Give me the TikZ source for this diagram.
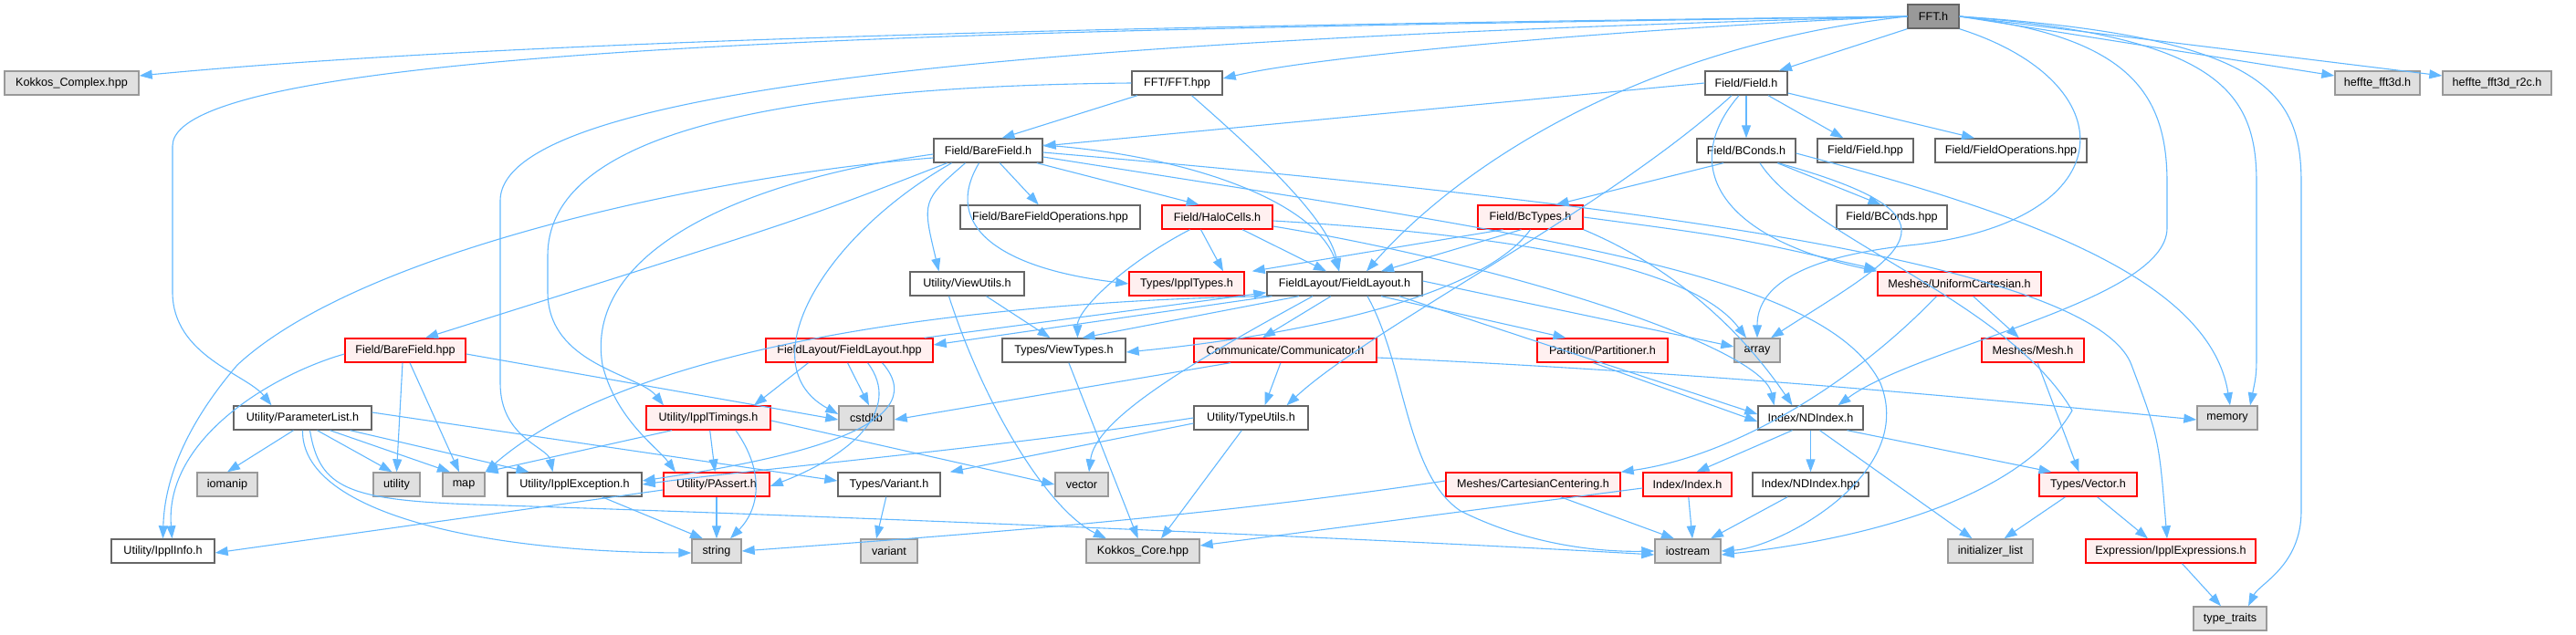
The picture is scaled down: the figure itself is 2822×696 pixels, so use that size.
\documentclass[tikz,border=0pt]{standalone}
\usepackage{fontspec}
\setmainfont{Liberation Sans}
\usetikzlibrary{arrows.meta}
\definecolor{edgeblue}{HTML}{63B8FF}
\definecolor{wborder}{HTML}{666666}
\definecolor{gborder}{HTML}{999999}
\definecolor{gfill}{HTML}{E0E0E0}
\definecolor{rborder}{HTML}{FF0000}
\definecolor{rfill}{HTML}{FFF0F0}
\definecolor{rootfill}{HTML}{999999}
\newcommand\nd[6]{\node[#1, minimum width={#4-#3}] (#2) at ({(#3+#4)/2},#5) {#6};}
\begin{document}
\begin{tikzpicture}[x=1pt,y=-1pt,
  box/.style={draw, line width=1.4pt, inner sep=0pt, minimum height=26pt, font=\fontsize{12.6}{15}\selectfont},
  wbox/.style={box, draw=wborder, fill=white},
  gbox/.style={box, draw=gborder, fill=gfill},
  rbox/.style={box, draw=rborder, fill=rfill},
  rootbox/.style={box, draw=wborder, fill=rootfill},
  dep/.style={draw=edgeblue, line width=1.1pt, -{Triangle[length=14pt,width=10pt]}}]
\useasboundingbox (0,0) rectangle (2822,696);
% row 0
\nd{rootbox}{fft}{2090}{2146}{18}{FFT.h}
% row 1
\nd{gbox}{kc}{5}{152}{91}{Kokkos\_Complex.hpp}
\nd{wbox}{ffthpp}{1240}{1339}{91}{FFT/FFT.hpp}
\nd{wbox}{field}{1868}{1958}{91}{Field/Field.h}
\nd{gbox}{hf}{2558}{2651}{91}{heffte\_fft3d.h}
\nd{gbox}{hfr}{2676}{2795}{91}{heffte\_fft3d\_r2c.h}
% row 2
\nd{wbox}{bfh}{1023}{1142}{165}{Field/BareField.h}
\nd{wbox}{bconds}{1859}{1967}{165}{Field/BConds.h}
\nd{wbox}{fieldhpp}{1991}{2096}{165}{Field/Field.hpp}
\nd{wbox}{fops}{2120}{2286}{165}{Field/FieldOperations.hpp}
% row 3
\nd{wbox}{bfops}{1052}{1249}{238}{Field/BareFieldOperations.hpp}
\nd{rbox}{halo}{1273}{1394}{238}{Field/HaloCells.h}
\nd{rbox}{bct}{1619}{1734}{238}{Field/BcTypes.h}
\nd{wbox}{bcondshpp}{2012}{2133}{238}{Field/BConds.hpp}
% row 4
\nd{wbox}{vu}{997}{1122}{311}{Utility/ViewUtils.h}
\nd{rbox}{ippltypes}{1237}{1363}{311}{Types/IpplTypes.h}
\nd{wbox}{fl}{1388}{1558}{311}{FieldLayout/FieldLayout.h}
\nd{rbox}{uc}{2057}{2236}{311}{Meshes/UniformCartesian.h}
% row 5
\nd{rbox}{bfhpp}{378}{510}{384}{Field/BareField.hpp}
\nd{rbox}{flhpp}{839}{1022}{384}{FieldLayout/FieldLayout.hpp}
\nd{wbox}{vt}{1098}{1233}{384}{Types/ViewTypes.h}
\nd{rbox}{comm}{1308}{1508}{384}{Communicate/Communicator.h}
\nd{rbox}{part}{1684}{1827}{384}{Partition/Partitioner.h}
\nd{gbox}{array}{1900}{1950}{384}{array}
\nd{rbox}{mesh}{2171}{2283}{384}{Meshes/Mesh.h}
% row 6
\nd{wbox}{plist}{256}{407}{458}{Utility/ParameterList.h}
\nd{rbox}{timings}{708}{844}{458}{Utility/IpplTimings.h}
\nd{gbox}{cstdlib}{919}{979}{458}{cstdlib}
\nd{wbox}{tu}{1308}{1433}{458}{Utility/TypeUtils.h}
\nd{wbox}{ndi}{1926}{2041}{458}{Index/NDIndex.h}
\nd{gbox}{memory}{2407}{2473}{458}{memory}
% row 7
\nd{gbox}{iomanip}{216}{282}{531}{iomanip}
\nd{gbox}{utility}{409}{460}{531}{utility}
\nd{gbox}{map}{485}{531}{531}{map}
\nd{wbox}{iexc}{556}{703}{531}{Utility/IpplException.h}
\nd{rbox}{passert}{727}{843}{531}{Utility/PAssert.h}
\nd{wbox}{varh}{918}{1030}{531}{Types/Variant.h}
\nd{gbox}{vector}{1156}{1214}{531}{vector}
\nd{rbox}{cc}{1584}{1775}{531}{Meshes/CartesianCentering.h}
\nd{rbox}{index}{1800}{1897}{531}{Index/Index.h}
\nd{wbox}{ndihpp}{1920}{2047}{531}{Index/NDIndex.hpp}
\nd{rbox}{vec}{2234}{2341}{531}{Types/Vector.h}
% row 8
\nd{wbox}{info}{122}{235}{604}{Utility/IpplInfo.h}
\nd{gbox}{string}{758}{812}{604}{string}
\nd{gbox}{variant}{943}{1005}{604}{variant}
\nd{gbox}{kcore}{1190}{1314}{604}{Kokkos\_Core.hpp}
\nd{gbox}{iostream}{1813}{1885}{604}{iostream}
\nd{gbox}{initl}{2134}{2227}{604}{initializer\_list}
\nd{rbox}{iexpr}{2285}{2471}{604}{Expression/IpplExpressions.h}
% row 9
\nd{gbox}{tt}{2403}{2483}{678}{type\_traits}

% ---------- FFT.h
\draw[dep] (fft.west) .. controls (1400,26) and (600,40) .. ([yshift=8pt]kc.east);
\draw[dep] (fft.west) .. controls (1200,32) and (189,42) .. (189,160) -- (189,320) .. controls (189,390) and (270,410) .. ([xshift=-34pt]plist.north);
\draw[dep] (fft.west) .. controls (1300,40) and (548,80) .. (548,220) -- (548,420) .. controls (548,480) and (600,490) .. ([xshift=-24pt]iexc.north);
\draw[dep] (fft.west) .. controls (1800,30) and (1450,60) .. ([yshift=5pt]ffthpp.east);
\draw[dep] (fft.south west) -- ([xshift=36pt]field.north);
\draw[dep] (fft.east) -- ([yshift=8pt]hf.west);
\draw[dep] (fft.east) -- ([yshift=8pt]hfr.west);
\draw[dep] (fft.west) .. controls (1800,50) and (1600,180) .. ([xshift=24pt]fl.north);
\draw[dep] (fft.south east) .. controls (2330,90) and (2330,240) .. (2100,268) .. controls (1960,282) and (1925,320) .. (array.north);
\draw[dep] (fft.east) .. controls (2330,40) and (2374,100) .. (2374,200) -- (2374,250) .. controls (2374,330) and (2100,380) .. ([xshift=30pt]ndi.north);
\draw[dep] (fft.east) .. controls (2430,40) and (2472,100) .. (2472,200) -- (2472,380) .. controls (2472,410) .. ([xshift=25pt]memory.north);
\draw[dep] (fft.east) .. controls (2480,40) and (2521,100) .. (2521,200) -- (2521,560) .. controls (2521,620) and (2475,640) .. ([xshift=20pt]tt.north);
% ---------- FFT.hpp
\draw[dep] (ffthpp) -- ([xshift=15pt]bfh.north);
\draw[dep] ([xshift=16pt]ffthpp.south) .. controls (1380,170) and (1455,240) .. ([xshift=-6pt]fl.north);
\draw[dep] (ffthpp.west) .. controls (800,95) and (600,160) .. (600,280) -- (600,320) .. controls (600,400) and (700,410) .. ([xshift=-49pt]timings.north);
% ---------- Field.h
\draw[dep] (field.west) -- ([yshift=5pt]bfh.east);
\draw[dep] (field) -- (bconds);
\draw[dep] (field) -- (fieldhpp);
\draw[dep] (field) -- ([xshift=-40pt]fops.north);
\draw[dep] ([xshift=-8pt]field.south) .. controls (1840,180) and (1880,260) .. (uc.north west);
\draw[dep] ([xshift=-16pt]field.south) .. controls (1760,230) and (1500,360) .. ([xshift=39pt]tu.north);
% ---------- BareField.h
\draw[dep] (bfh) -- (bfops);
\draw[dep] (bfh) -- ([xshift=-20pt]halo.north);
\draw[dep] ([xshift=-45pt]bfh.south) .. controls (880,240) .. ([xshift=22pt]bfhpp.north);
\draw[dep] ([yshift=-8pt]bfh.west) .. controls (800,190) and (400,270) .. (260,400) .. controls (200,470) and (180,530) .. (info.north);
\draw[dep] ([yshift=-4pt]bfh.west) .. controls (800,200) and (640,280) .. (660,400) .. controls (675,460) and (720,490) .. ([xshift=-45pt]passert.north);
\draw[dep] ([xshift=-40pt]bfh.south) .. controls (900,260) and (820,400) .. ([yshift=4pt]cstdlib.west);
\draw[dep] ([xshift=-25pt]bfh.south) .. controls (1010,220) .. ([xshift=-31pt]vu.north);
\draw[dep] ([xshift=-10pt]bfh.south) .. controls (1030,250) and (1100,295) .. (ippltypes.west);
\draw[dep] ([yshift=6pt]bfh.east) .. controls (1300,170) and (1440,220) .. ([xshift=-6pt]fl.north);
\draw[dep] ([yshift=-2pt]bfh.east) .. controls (1700,215) and (2290,280) .. (2335,400) .. controls (2365,480) .. ([xshift=-4pt]iexpr.north);
\draw[dep] ([yshift=-7pt]bfh.east) .. controls (1700,260) and (2000,300) .. (2060,420) .. controls (2100,520) and (1950,600) .. (iostream.east);
% ---------- BConds.h
\draw[dep] ([xshift=-25pt]bconds.south) -- ([xshift=28pt]bct.north);
\draw[dep] (bconds) -- ([xshift=-12pt]bcondshpp.north);
\draw[dep] ([yshift=-3pt]bconds.east) .. controls (2200,230) and (2420,300) .. ([xshift=3pt]memory.north);
\draw[dep] ([xshift=35pt]bconds.south) .. controls (2170,240) and (2080,280) .. ([xshift=15pt]array.north);
\draw[dep] ([xshift=15pt]bconds.south) .. controls (1980,260) and (2200,330) .. (2270,450) .. controls (2200,570) and (1960,600) .. ([yshift=-4pt]iostream.east);
% ---------- BcTypes.h
\draw[dep] ([xshift=-30pt]bct.south) -- ([xshift=8pt]ippltypes.north east);
\draw[dep] ([xshift=-10pt]bct.south) -- ([xshift=40pt]fl.north);
\draw[dep] (bct.south) .. controls (1620,330) and (1400,370) .. ([yshift=-2pt]vt.east);
\draw[dep] (bct.east) .. controls (1900,260) .. ([yshift=2pt]uc.north west);
\draw[dep] (bct.south east) .. controls (1850,300) and (1920,380) .. ([xshift=-20pt]ndi.north);
% ---------- HaloCells.h
\draw[dep] ([xshift=-18pt]halo.south) -- ([xshift=40pt]ippltypes.north);
\draw[dep] ([xshift=-30pt]halo.south) .. controls (1230,290) and (1180,340) .. ([xshift=15pt]vt.north);
\draw[dep] (halo) -- ([xshift=-20pt]fl.north);
\draw[dep] ([yshift=-4pt]halo.east) .. controls (1700,260) and (1860,300) .. ([xshift=-12pt]array.north);
\draw[dep] ([yshift=-10pt]halo.east) .. controls (1650,290) and (1930,380) .. ([xshift=-40pt]ndi.north);
% ---------- ViewUtils.h
\draw[dep] (vu) -- ([xshift=-15pt]vt.north);
\draw[dep] ([xshift=-20pt]vu.south) .. controls (1080,450) and (1150,560) .. ([xshift=-40pt]kcore.north);
% ---------- FieldLayout.h
\draw[dep] ([xshift=6pt]fl.south west) -- ([yshift=6pt]flhpp.east);
\draw[dep] ([xshift=-10pt]flhpp.north east) -- ([yshift=4pt]fl.south west);
\draw[dep] ([xshift=-50pt]fl.south) -- ([xshift=20pt]vt.north);
\draw[dep] ([xshift=-15pt]fl.south) -- ([xshift=-25pt]comm.north);
\draw[dep] ([xshift=40pt]fl.south) -- ([xshift=-40pt]part.north);
\draw[dep] ([yshift=3pt]fl.east) -- ([yshift=4pt]array.west);
\draw[dep] ([xshift=60pt]fl.south) -- ([yshift=4pt]ndi.west);
\draw[dep] ([xshift=25pt]fl.south) .. controls (1540,400) and (1540,520) .. (1600,560) .. controls (1680,600) and (1760,605) .. (iostream.west);
\draw[dep] ([xshift=-35pt]fl.south) .. controls (1300,400) and (1200,460) .. ([xshift=8pt]vector.north);
\draw[dep] (fl.south west) .. controls (1100,330) and (700,370) .. (map.north east);
% ---------- FieldLayout.hpp
\draw[dep] ([xshift=-2pt]flhpp.south) -- ([xshift=3pt]cstdlib.north);
\draw[dep] ([xshift=-45pt]flhpp.south) -- ([xshift=50pt]timings.north);
\draw[dep] ([xshift=20pt]flhpp.south) .. controls (990,450) and (930,500) .. ([yshift=-2pt]passert.east);
\draw[dep] ([xshift=36pt]flhpp.south) .. controls (1030,470) and (850,505) .. ([yshift=4pt]iexc.east);
% ---------- Communicator.h
\draw[dep] ([xshift=-60pt]comm.south) -- ([yshift=-2pt]cstdlib.east);
\draw[dep] (comm) -- ([xshift=15pt]tu.north);
\draw[dep] ([yshift=-8pt]comm.east) .. controls (1900,410) and (2200,440) .. ([yshift=-2pt]memory.west);
% ---------- others
\draw[dep] ([xshift=-10pt]part.south) -- ([yshift=-4pt]ndi.west);
\draw[dep] (tu.west) .. controls (1100,490) and (820,515) .. (iexc.east);
\draw[dep] ([yshift=-6pt]tu.west) -- ([xshift=10pt]varh.north east);
\draw[dep] (tu) -- ([xshift=20pt]kcore.north);
\draw[dep] (vt) -- (kcore);
\draw[dep] (uc) -- (mesh);
\draw[dep] ([xshift=-25pt]uc.south) .. controls (2030,420) and (1900,500) .. (cc.north east);
\draw[dep] (mesh) -- ([xshift=-10pt]vec.north);
\draw[dep] ([xshift=-20pt]ndi.south) -- ([xshift=10pt]index.north);
\draw[dep] (ndi) -- (ndihpp);
\draw[dep] ([xshift=10pt]ndi.south) -- ([xshift=-20pt]initl.north);
\draw[dep] ([xshift=40pt]ndi.south) -- ([xshift=-40pt]vec.north);
\draw[dep] (index) -- ([xshift=5pt]iostream.north);
\draw[dep] ([yshift=-4pt]index.west) -- ([yshift=6pt]kcore.east);
\draw[dep] (ndihpp) -- ([xshift=25pt]iostream.north);
\draw[dep] ([xshift=30pt]cc.south) -- ([xshift=-15pt]iostream.north);
\draw[dep] ([yshift=4pt]cc.west) .. controls (1300,570) and (1000,590) .. (string.east);
\draw[dep] ([xshift=-25pt]vec.south) -- ([xshift=15pt]initl.north);
\draw[dep] ([xshift=10pt]vec.south) -- ([xshift=-25pt]iexpr.north);
\draw[dep] (iexpr) -- ([xshift=-10pt]tt.north);
\draw[dep] (varh) -- ([xshift=-14pt]variant.north);
\draw[dep] ([xshift=-40pt]timings.south) -- (map.north east);
\draw[dep] ([xshift=30pt]timings.south) .. controls (840,520) and (830,560) .. ([xshift=15pt]string.north);
\draw[dep] (timings) -- (passert);
\draw[dep] ([yshift=-3pt]timings.east) -- (vector.west);
\draw[dep] (passert) -- (string);
\draw[dep] ([yshift=-6pt]passert.west) -- ([yshift=-2pt]info.east);
\draw[dep] ([xshift=30pt]iexc.south) -- ([xshift=-15pt]string.north);
\draw[dep] ([xshift=-10pt]plist.south) -- (iomanip.north);
\draw[dep] ([xshift=16pt]plist.south) -- ([xshift=-5pt]utility.north);
\draw[dep] ([xshift=30pt]plist.south) -- ([xshift=-15pt]map.north);
\draw[dep] ([xshift=52pt]plist.south) -- ([xshift=-50pt]iexc.north);
\draw[dep] ([yshift=6pt]plist.east) -- ([yshift=4pt]varh.west);
\draw[dep] ([xshift=0pt]plist.south) .. controls (330,560) and (520,605) .. ([yshift=-2pt]string.west);
\draw[dep] ([xshift=8pt]plist.south) .. controls (350,535) and (380,548) .. (520,553) .. controls (900,565) and (1500,590) .. ([yshift=-4pt]iostream.west);
\draw[dep] ([yshift=-4pt]bfhpp.east) -- ([yshift=-2pt]cstdlib.west);
\draw[dep] ([yshift=-4pt]bfhpp.west) .. controls (300,410) and (180,480) .. ([xshift=10pt]info.north);
\draw[dep] ([xshift=-3pt]bfhpp.south) -- (utility.north);
\draw[dep] ([xshift=5pt]bfhpp.south) -- ([xshift=-5pt]map.north);
\end{tikzpicture}
\end{document}
